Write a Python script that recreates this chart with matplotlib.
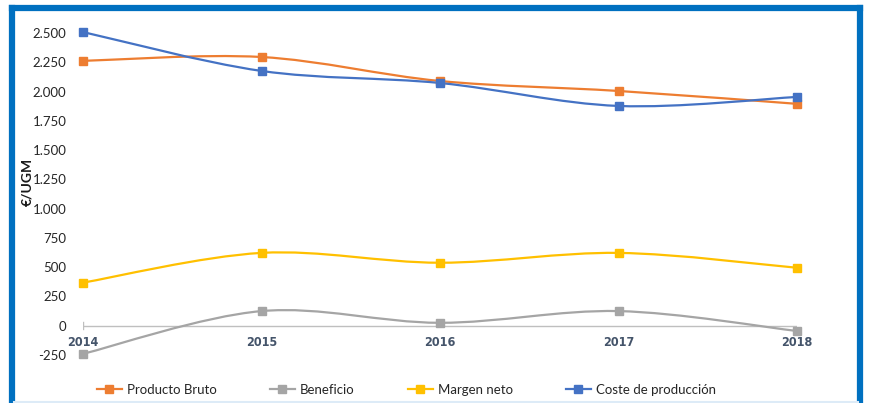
import matplotlib
matplotlib.use("Agg")
import matplotlib.pyplot as plt
from matplotlib.path import Path
from matplotlib.patches import PathPatch
from matplotlib.lines import Line2D
import numpy as np

plt.rcParams["font.family"] = ["Lato", "DejaVu Sans"]

# ---- data ----
years = [2014, 2015, 2016, 2017, 2018]
producto_bruto = [2262, 2295, 2090, 2005, 1895]
beneficio = [-240, 125, 25, 125, -45]
margen_neto = [368, 622, 538, 622, 495]
coste_produccion = [2508, 2176, 2073, 1877, 1954]

series = [
    ("Producto Bruto", producto_bruto, "#ED7D31"),
    ("Beneficio", beneficio, "#A5A5A5"),
    ("Margen neto", margen_neto, "#FFC000"),
    ("Coste de producción", coste_produccion, "#4472C4"),
]

yticks = [-250, 0, 250, 500, 750, 1000, 1250, 1500, 1750, 2000, 2250, 2500]


def smooth_path(xs, ys):
    # Excel-style smoothed line: cubic Bezier segments through the points
    pts = np.column_stack([xs, ys]).astype(float)
    n = len(pts)
    verts = [pts[0]]
    codes = [Path.MOVETO]
    for i in range(n - 1):
        p0 = pts[max(i - 1, 0)]
        p1 = pts[i]
        p2 = pts[i + 1]
        p3 = pts[min(i + 2, n - 1)]
        c1 = p1 + (p2 - p0) / 6.0
        c2 = p2 - (p3 - p1) / 6.0
        verts += [c1, c2, p2]
        codes += [Path.CURVE4] * 3
    return Path(verts, codes)


W, H = 870, 403
fig = plt.figure(figsize=(W / 100, H / 100), dpi=100)
ax = fig.add_axes([83 / W, 1 - 355 / H, (797 - 83) / W, (355 - 33) / H])
ax.set_xlim(2014, 2018)
ax.set_ylim(-250, 2500)

for name, vals, color in series:
    patch = PathPatch(smooth_path(years, vals), facecolor="none", edgecolor=color,
                      linewidth=1.6, clip_on=False, zorder=3)
    ax.add_patch(patch)
    ax.plot(years, vals, linestyle="none", marker="s", markersize=5.5,
            color=color, clip_on=False, zorder=4)

# zero (category) axis line
ax.axhline(0, color="#BFBFBF", linewidth=1, zorder=1)
ax.plot([2014, 2014], [-30, 30], color="#BFBFBF", linewidth=1, zorder=1)

for s in ax.spines.values():
    s.set_visible(False)
ax.set_xticks([])
ax.set_yticks(yticks)
ax.set_yticklabels([f"{v:,}".replace(",", ".") for v in yticks])
ax.tick_params(axis="y", length=0, pad=12, labelsize=9.5, labelcolor="#262626")

for yr in years:
    ax.annotate(str(yr), (yr, 0), xytext=(0, -12), textcoords="offset points",
                ha="center", va="center", fontsize=9, fontweight="bold",
                color="#44546A", family=["DejaVu Sans", "Lato"],
                fontstretch="condensed")

fig.text(27 / W, 1 - 182 / H, "€/UGM", rotation=90, ha="center", va="center",
         fontsize=10, fontweight="bold", color="#1a1a1a")

handles = [Line2D([], [], color=c, linewidth=1.6, marker="s", markersize=5.5)
           for _, _, c in series]
fig.legend(handles, [n for n, _, _ in series], ncol=4, loc="center left",
           bbox_to_anchor=(85 / W, 13 / H), frameon=False, fontsize=9.5,
           handlelength=1.9, handletextpad=0.4, columnspacing=4.0,
           labelcolor="#262626")

# blue frame
frame_kw = dict(color="#0070C0", linewidth=4.5, transform=fig.transFigure,
                solid_capstyle="projecting")
fig.add_artist(Line2D([12.5 / W, 12.5 / W], [0, 1 - 7.5 / H], **frame_kw))
fig.add_artist(Line2D([12.5 / W, 860 / W], [1 - 7.5 / H, 1 - 7.5 / H], **frame_kw))
fig.add_artist(Line2D([860 / W, 860 / W], [0, 1 - 7.5 / H], **frame_kw))
fig.add_artist(Line2D([14 / W, 858 / W], [1 / H, 1 / H], color="#DDEBF7",
                      linewidth=1.5, transform=fig.transFigure))

fig.savefig("out.png", dpi=100)
